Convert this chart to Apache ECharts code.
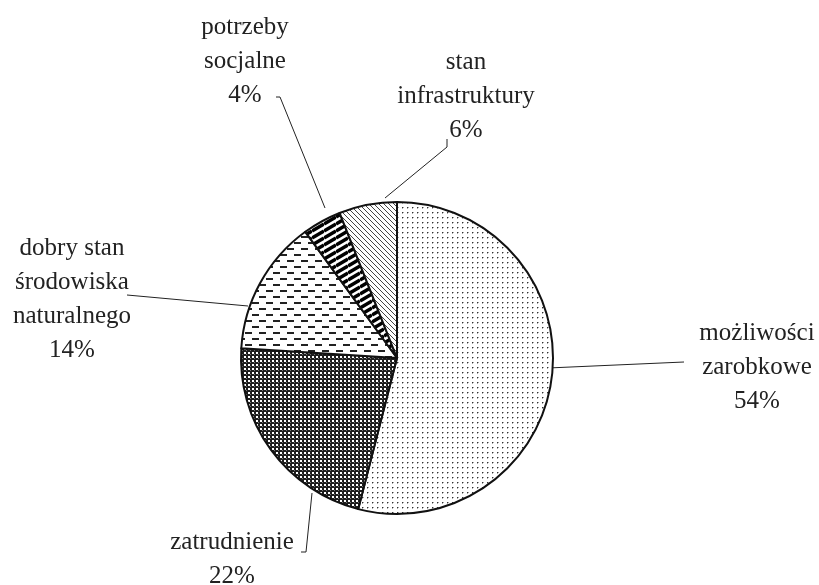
<!DOCTYPE html>
<html>
<head>
<meta charset="utf-8">
<script src="https://cdn.jsdelivr.net/npm/echarts@6/dist/echarts.min.js"></script>
<style>html,body{margin:0;padding:0;background:#fff}#c{width:819px;height:585px}</style>
</head>
<body>
<div id="c"></div>
<script>
// Data
const categories = ['możliwości\nzarobkowe', 'zatrudnienie', 'dobry stan\nśrodowiska\nnaturalnego', 'potrzeby\nsocjalne', 'stan\ninfrastruktury'];
const values = [54, 22, 14, 4, 6];

// Patterns
function pat(w, h, draw) {
  const c = document.createElement('canvas');
  c.width = w; c.height = h;
  const g = c.getContext('2d');
  g.fillStyle = '#fff'; g.fillRect(0, 0, w, h);
  draw(g, w, h);
  return { image: c, repeat: 'repeat' };
}
const dots = pat(5, 5, g => { g.fillStyle = '#333'; g.fillRect(2, 2, 1, 1); g.fillStyle = '#aaa'; g.fillRect(3, 2, 1, 1); g.fillRect(2, 3, 1, 1); });
const checker = pat(4, 4, g => { g.fillStyle = '#1e1e1e'; g.fillRect(0, 0, 4, 4); g.fillStyle = '#fff'; g.fillRect(0, 0, 2, 2); g.fillStyle = '#777'; g.fillRect(2, 2, 1, 1); });
const dashes = pat(14, 12, g => { g.fillStyle = '#222'; g.fillRect(0, 2, 7, 2); g.fillRect(7, 8, 7, 2); });
const stripes = pat(12, 7, (g, w, h) => { g.strokeStyle = '#000'; g.lineWidth = 3.5; for (let k = -1; k <= 2; k++) { g.beginPath(); g.moveTo(0, h + k * h); g.lineTo(w, k * h); g.stroke(); } });
const hatch = pat(5, 5, (g, w, h) => { g.strokeStyle = '#444'; g.lineWidth = 1; for (let k = -1; k <= 1; k++) { g.beginPath(); g.moveTo(k * w, 0); g.lineTo(k * w + w, h); g.stroke(); } });
const fills = [dots, checker, dashes, stripes, hatch];

// Label placement (layout only)
const labelPos = [
  { x: 757, y: 367, line: [[548, 368], [684, 362]] },
  { x: 232, y: 559, line: [[312, 493], [306, 552], [301, 552]] },
  { x: 72, y: 299, line: [[248, 306], [127, 295]] },
  { x: 245, y: 61, line: [[325, 208], [280, 97], [276, 97]] },
  { x: 466, y: 96, line: [[385, 198], [447, 147], [447, 139]] }
];

const chart = echarts.init(document.getElementById('c'));
chart.setOption({
  animation: false,
  series: [{
    type: 'pie',
    center: [397, 358],
    radius: 156,
    startAngle: 90,
    clockwise: true,
    avoidLabelOverlap: false,
    data: categories.map((n, i) => ({ name: n, value: values[i], itemStyle: { color: fills[i] } })),
    itemStyle: { borderColor: '#111', borderWidth: 2 },
    label: {
      show: true,
      formatter: p => p.name + '\n' + p.value + '%',
      fontFamily: 'Liberation Serif',
      fontSize: 25,
      lineHeight: 34,
      color: '#222',
      align: 'center'
    },
    labelLine: { show: true, lineStyle: { color: '#222', width: 1 } },
    labelLayout: function (params) {
      const lp = labelPos[params.dataIndex];
      return { x: lp.x, y: lp.y, align: 'center', verticalAlign: 'middle', labelLinePoints: lp.line };
    },
    emphasis: { disabled: true }
  }]
});
</script>
</body>
</html>
